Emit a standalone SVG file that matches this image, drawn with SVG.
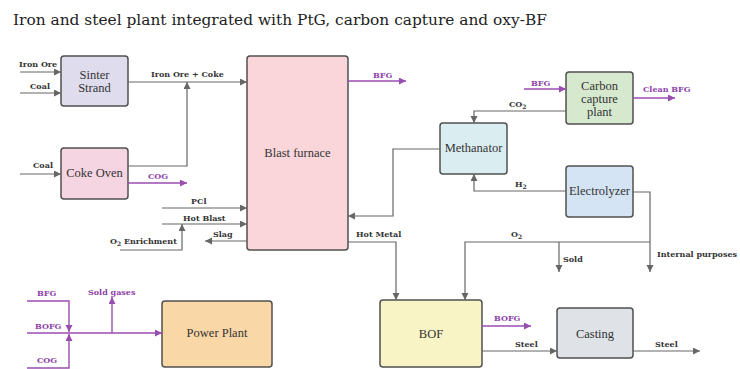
<svg xmlns="http://www.w3.org/2000/svg" width="740" height="369" viewBox="0 0 740 369">
<defs>
<marker id="ag" markerUnits="userSpaceOnUse" markerWidth="8" markerHeight="8" refX="7" refY="3.5" orient="auto"><path d="M0,0 L7,3.5 L0,7 z" fill="#666"/></marker>
<marker id="ap" markerUnits="userSpaceOnUse" markerWidth="8" markerHeight="8" refX="7" refY="3.5" orient="auto"><path d="M0,0 L7,3.5 L0,7 z" fill="#9a4db0"/></marker>
</defs>
<style>
.box{stroke:#505050;stroke-width:1.5}
.bt{font-family:"Liberation Serif",serif;font-size:12.5px;fill:#333;text-anchor:middle}
.lb{font-size:8px;font-weight:bold;fill:#333}
.lp{font-size:8px;font-weight:bold;fill:#8e3fa8}
.g{fill:none;stroke:#666;stroke-width:1.2;marker-end:url(#ag)}
.gn{fill:none;stroke:#666;stroke-width:1.2}
.p{fill:none;stroke:#9a4db0;stroke-width:1.4;marker-end:url(#ap)}
.pn{fill:none;stroke:#9a4db0;stroke-width:1.4}
</style>
<rect width="740" height="369" fill="#fff"/>
<g font-family="DejaVu Serif, serif">
<text x="13" y="25" font-size="15.4" fill="#222">Iron and steel plant integrated with PtG, carbon capture and oxy-BF</text>

<g id="sinter"><rect class="box" x="61" y="56" width="67" height="50" rx="3" fill="#dfdcee"/><text class="bt" x="94.5" y="79">Sinter</text><text class="bt" x="94.5" y="92">Strand</text></g>
<g id="coke"><rect class="box" x="61" y="148" width="67" height="51" rx="3" fill="#f6d5e2"/><text class="bt" x="94.5" y="177">Coke Oven</text></g>
<g id="bf"><rect class="box" x="247" y="56" width="101" height="194" rx="3" fill="#fad5da"/><text class="bt" x="297.5" y="157">Blast furnace</text></g>
<g id="meth"><rect class="box" x="440" y="123" width="67" height="51" rx="3" fill="#daeef1"/><text class="bt" x="473.5" y="152">Methanator</text></g>
<g id="ccp"><rect class="box" x="566" y="72" width="67" height="52" rx="3" fill="#d6e9cf"/><text class="bt" x="599.5" y="90">Carbon</text><text class="bt" x="599.5" y="103">capture</text><text class="bt" x="599.5" y="116">plant</text></g>
<g id="elec"><rect class="box" x="566" y="166" width="67" height="51" rx="3" fill="#d4e4f4"/><text class="bt" x="599.5" y="195">Electrolyzer</text></g>
<g id="bof"><rect class="box" x="380" y="300" width="102" height="67" rx="3" fill="#f8f4c6"/><text class="bt" x="431" y="338">BOF</text></g>
<g id="casting"><rect class="box" x="557" y="308" width="76" height="50" rx="3" fill="#dfe2e7"/><text class="bt" x="595" y="338">Casting</text></g>
<g id="power"><rect class="box" x="162" y="301" width="110" height="66" rx="3" fill="#fad7a7"/><text class="bt" x="217" y="337">Power Plant</text></g>

<g id="connectors">
<path class="g" d="M20,72 H61"/>
<path class="g" d="M20,93 H61"/>
<path class="g" d="M20,174 H61"/>
<path class="g" d="M128,82 H247"/>
<path class="g" d="M128,166 H187 V82"/>
<path class="g" d="M162,208 H247"/>
<path class="g" d="M162,224 H247"/>
<path class="g" d="M120,250 H182 V224"/>
<path class="g" d="M247,241 H205"/>
<path class="g" d="M440,149 H393 V216 H348"/>
<path class="g" d="M566,111 H474 V123"/>
<path class="g" d="M566,191 H474 V174"/>
<path class="g" d="M633,192 H650 V272"/>
<path class="g" d="M650,242 H465 V300"/>
<path class="g" d="M559,242 V272"/>
<path class="g" d="M348,242 H396 V300"/>
<path class="g" d="M482,351 H557"/>
<path class="g" d="M633,351 H700"/>
<path class="p" d="M348,81 H406"/>
<path class="p" d="M128,183 H187"/>
<path class="p" d="M524,89 H566"/>
<path class="p" d="M633,98 H675"/>
<path class="p" d="M482,326 H531"/>
<path class="p" d="M27,301 H69 V332"/>
<path class="pn" d="M27,333 H69"/>
<path class="p" d="M27,368 H69 V334"/>
<path class="p" d="M69,333 H162"/>
<path class="p" d="M112,333 V297"/>
</g>

<g id="labels">
<text class="lb" x="19" y="67">Iron Ore</text>
<text class="lb" x="30" y="89">Coal</text>
<text class="lb" x="33" y="168">Coal</text>
<text class="lb" x="151" y="77">Iron Ore + Coke</text>
<text class="lp" x="148" y="179">COG</text>
<text class="lb" x="191" y="204">PCl</text>
<text class="lb" x="183" y="221">Hot Blast</text>
<text class="lb" x="110" y="244">O<tspan font-size="6" dy="2">2</tspan><tspan dy="-2"> Enrichment</tspan></text>
<text class="lb" x="213" y="237">Slag</text>
<text class="lb" x="356" y="237">Hot Metal</text>
<text class="lp" x="373" y="78">BFG</text>
<text class="lp" x="531" y="86">BFG</text>
<text class="lb" x="509" y="107">CO<tspan font-size="6" dy="2">2</tspan></text>
<text class="lp" x="643" y="92">Clean BFG</text>
<text class="lb" x="515" y="187">H<tspan font-size="6" dy="2">2</tspan></text>
<text class="lb" x="511" y="237">O<tspan font-size="6" dy="2">2</tspan></text>
<text class="lb" x="563" y="262">Sold</text>
<text class="lb" x="657" y="257">Internal purposes</text>
<text class="lp" x="494" y="321">BOFG</text>
<text class="lb" x="515" y="347">Steel</text>
<text class="lb" x="655" y="347">Steel</text>
<text class="lp" x="37" y="296">BFG</text>
<text class="lp" x="35" y="329">BOFG</text>
<text class="lp" x="37" y="363">COG</text>
<text class="lp" x="88" y="295">Sold gases</text>
</g>
</g>
</svg>
